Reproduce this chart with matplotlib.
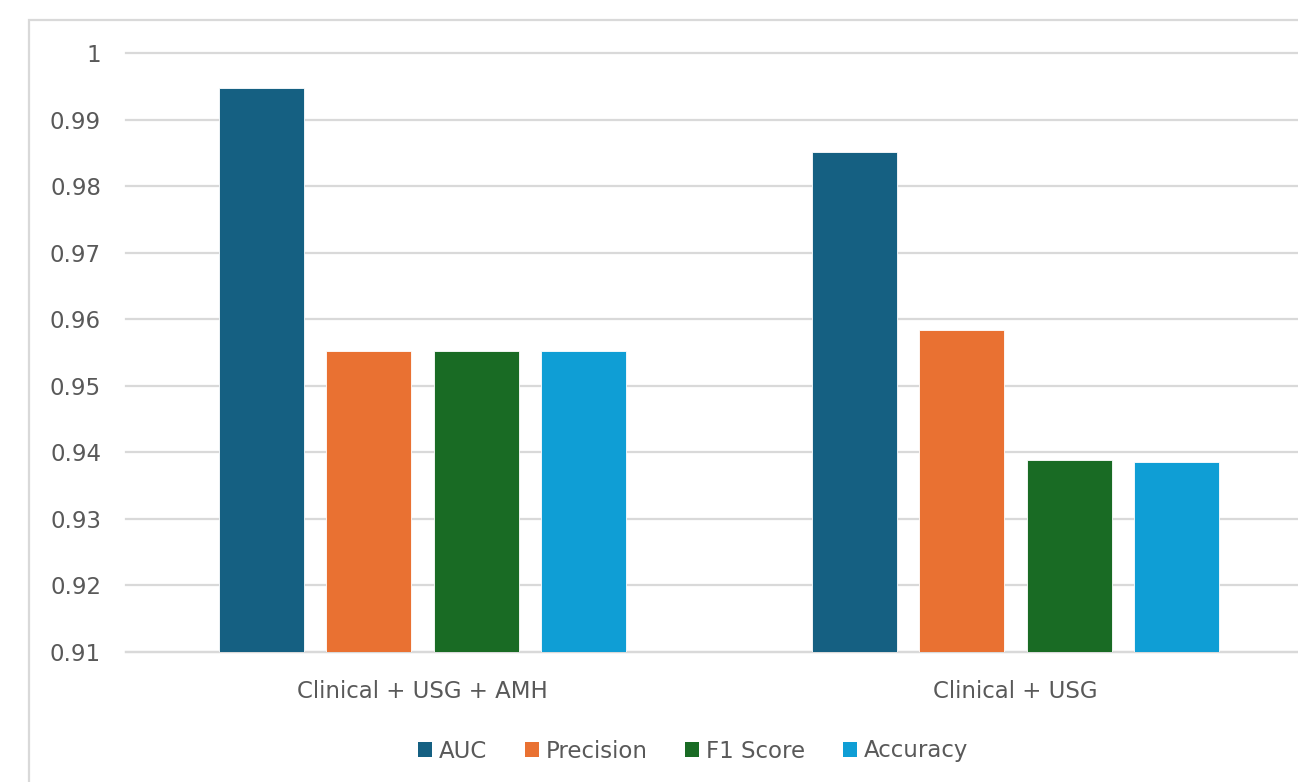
import matplotlib
matplotlib.use("Agg")
import matplotlib.pyplot as plt
from matplotlib.patches import Rectangle
from matplotlib.ticker import FuncFormatter, MultipleLocator
import numpy as np

categories = ["Clinical + USG + AMH", "Clinical + USG"]
series_names = ["AUC", "Precision", "F1 Score", "Accuracy"]
auc = [0.9947, 0.9852]
precision = [0.9553, 0.9584]
f1_score = [0.9553, 0.9389]
accuracy = [0.9553, 0.9385]
colors = ["#156082", "#E97132", "#196B24", "#0F9ED5"]

W, H = 1298, 782
plt.rcParams['font.family'] = ['DejaVu Sans']
fig = plt.figure(figsize=(W / 100, H / 100), dpi=100)

left_px, right_px, top_px, bottom_px = 126, 1312, 53, 652
ax = fig.add_axes([left_px / W, 1 - bottom_px / H, (right_px - left_px) / W, (bottom_px - top_px) / H])

x = np.arange(len(categories))
bar_w = 0.1433
step = 0.1813
data = [auc, precision, f1_score, accuracy]
for i, (name, vals, c) in enumerate(zip(series_names, data, colors)):
    ax.bar(x + (i - 1.5) * step, np.array(vals) - 0.91, bottom=0.91, width=bar_w,
           color=c, edgecolor="white", linewidth=0.6, label=name, zorder=3)

ax.set_xlim(-0.5, 1.5)
ax.set_ylim(0.91, 1.0)
ax.yaxis.set_major_locator(MultipleLocator(0.01))
ax.yaxis.set_major_formatter(FuncFormatter(lambda v, p: f"{v:.2f}".rstrip("0").rstrip(".")))
ax.grid(axis="y", color="#D9D9D9", linewidth=1.6, zorder=0)
for gl in ax.get_ygridlines():
    gl.set_clip_on(False)
ax.set_axisbelow(True)
for s in ["top", "right", "left"]:
    ax.spines[s].set_visible(False)
ax.spines["bottom"].set_color("#D9D9D9")
ax.spines["bottom"].set_linewidth(1.6)
ax.set_xticks(x)
ax.set_xticklabels(categories)
ax.tick_params(axis="both", length=0, labelsize=16.5, labelcolor="#595959")
ax.tick_params(axis="y", pad=18)
ax.tick_params(axis="x", pad=20)

fig.patches.append(Rectangle((29 / W, -0.1), 1.2, (H - 20) / H + 0.1, transform=fig.transFigure,
                             fill=False, edgecolor="#D9D9D9", linewidth=1.6))

leg = fig.legend(loc="center", bbox_to_anchor=(693 / W, 1 - 751 / H), ncol=4, frameon=False,
                 fontsize=16.5, handlelength=0.6, handleheight=0.6, handletextpad=0.3,
                 columnspacing=1.65, labelcolor="#595959")
for h in leg.legend_handles:
    h.set_edgecolor("none")

fig.savefig("out.png", dpi=100)
